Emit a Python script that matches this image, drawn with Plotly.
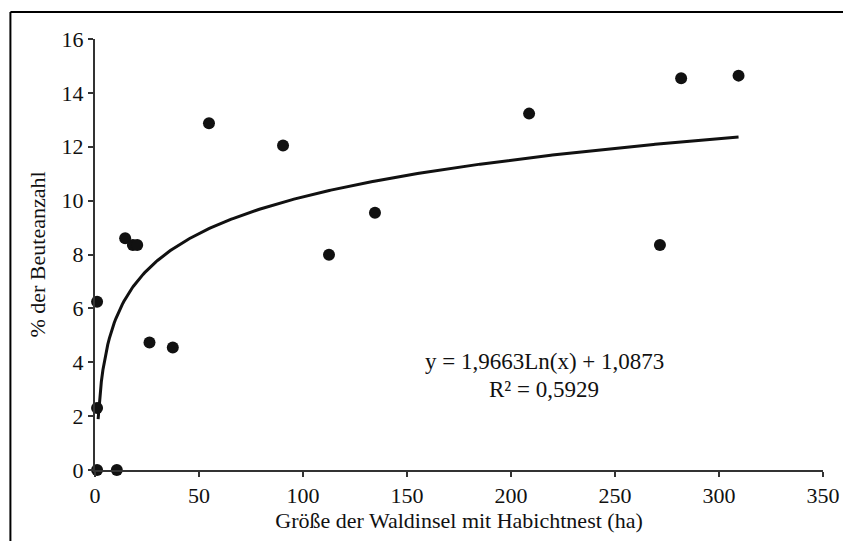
import numpy as np
import plotly.graph_objects as go

# data
area_ha = [1, 10.5, 1, 1, 14.5, 18.2, 20.3, 26.2, 37.4, 54.8, 90.4, 112.5, 134.6, 208.7, 271.6, 281.8, 309.4]
prey_pct = [0, 0, 2.3, 6.25, 8.6, 8.35, 8.35, 4.73, 4.55, 12.87, 12.05, 7.99, 9.55, 13.23, 8.35, 14.54, 14.64]

# logarithmic trend line as printed on the chart
coef_a = 1.9663
coef_b = 1.0873
trend_x = np.linspace(1.5, 309.4, 400)
trend_y = coef_a * np.log(trend_x) + coef_b

x_ticks = [0, 50, 100, 150, 200, 250, 300, 350]
y_ticks = [0, 2, 4, 6, 8, 10, 12, 14, 16]

FONT = "Liberation Serif, Times New Roman, serif"

fig = go.Figure()
fig.add_trace(go.Scatter(x=trend_x, y=trend_y, mode="lines",
                         line=dict(color="#111111", width=3), hoverinfo="skip",
                         showlegend=False, cliponaxis=False))
fig.add_trace(go.Scatter(x=area_ha, y=prey_pct, mode="markers",
                         marker=dict(color="#111111", size=12), showlegend=False,
                         cliponaxis=False))

fig.add_annotation(x=216, y=4.02, xref="x", yref="y", showarrow=False,
                   text="y = 1,9663Ln(x) + 1,0873", font=dict(family=FONT, size=23, color="#111"))
fig.add_annotation(x=216, y=3.0, xref="x", yref="y", showarrow=False,
                   text="R² = 0,5929", font=dict(family=FONT, size=23, color="#111"))

# outer frame (top and left edges visible)
fig.add_shape(type="line", xref="paper", yref="paper", x0=-0.1162, x1=1.3, y0=1.0626, y1=1.0626,
              line=dict(color="black", width=2))
fig.add_shape(type="line", xref="paper", yref="paper", x0=-0.1162, x1=-0.1162, y0=-0.3, y1=1.0626,
              line=dict(color="black", width=2))

axis_common = dict(showline=True, linecolor="#333333", linewidth=2, ticks="outside",
                   ticklen=5, tickwidth=2, tickcolor="#333333", showgrid=False, zeroline=False,
                   automargin=False,
                   tickfont=dict(family=FONT, size=22, color="#111"))

fig.update_xaxes(range=[0, 350], tickvals=x_ticks,
                 title=dict(text="Größe der Waldinsel mit Habichtnest (ha)",
                            font=dict(family=FONT, size=22, color="#111"), standoff=4),
                 **axis_common)
fig.update_yaxes(range=[0, 16], tickvals=y_ticks,
                 title=dict(text="% der Beuteanzahl",
                            font=dict(family=FONT, size=22, color="#111"), standoff=10),
                 **axis_common)

fig.update_layout(width=843, height=541, margin=dict(l=95, r=20, t=39, b=71),
                  plot_bgcolor="white", paper_bgcolor="white")

fig.write_html("out.html", config={"displayModeBar": False},
               post_script="document.body.style.margin='0';document.body.style.overflow='hidden';")
